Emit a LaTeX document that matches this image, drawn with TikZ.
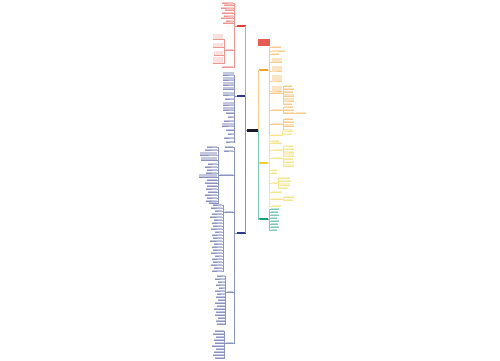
\documentclass[tikz,border=0pt]{standalone}
\usepackage{amsmath}
\usepackage{tikz}

\definecolor{mmroot}{RGB}{25,25,40}
\definecolor{mmred}{RGB}{226,62,52}
\definecolor{mmnavy}{RGB}{45,58,140}
\definecolor{mmorange}{RGB}{240,160,40}
\definecolor{mmyellow}{RGB}{238,205,50}
\definecolor{mmgreen}{RGB}{20,160,120}

\begin{document}
\begin{tikzpicture}[x=1pt,y=-1pt,
    leaf/.style={rectangle,inner sep=0pt,outer sep=0pt,fill=#1!28},
    block/.style={rectangle,inner sep=0pt,outer sep=0pt,fill=#1!16},
    bar/.style={rectangle,inner sep=0pt,outer sep=0pt,fill=#1,minimum width=9pt,minimum height=2.5pt},
    link/.style={draw=#1!55,line width=0.3pt}]
      \useasboundingbox (0,0) rectangle (500,360);
      % centre and main branches
      \node[bar=mmroot,minimum width=11pt,minimum height=3pt] (root) at (252,130) {};
      \node[bar=mmred] (red) at (241,26) {};
      \node[bar=mmnavy] (navyA) at (241,96) {};
      \node[bar=mmnavy] (navyB) at (241,233) {};
      \node[bar=mmorange] (orange) at (263.5,70) {};
      \node[bar=mmyellow] (yellow) at (263.5,163) {};
      \node[bar=mmgreen] (green) at (263.5,219) {};
      \node[bar=mmred!85,minimum width=12pt,minimum height=7pt] (banner) at (264,42.5) {};
      \draw[link=mmred] (root.west) -- ++(-1,0) |- (red.east);
      \draw[link=mmnavy] (root.west) -- ++(-1,0) |- (navyA.east);
      \draw[link=mmnavy] (root.west) -- ++(-1,0) |- (navyB.east);
      \draw[link=mmorange] (root.east) -- ++(1,0) |- (orange.west);
      \draw[link=mmyellow] (root.east) -- ++(1,0) |- (yellow.west);
      \draw[link=mmgreen] (root.east) -- ++(1,0) |- (green.west);

      % red branch
      \foreach \y/\w/\h [count=\i] in {3/11/1.5,5.5/9/1.5,8/12/1.5,10.5/8/1.5,13.5/11/2,16/9/1.5,18.5/12/1.5,21/7/1.5,23.5/10/1.5,67.5/11/1.5}{
        \node[leaf=mmred,minimum width=\w pt,minimum height=\h pt,anchor=south east] (ra\i) at (233,\y) {};
        \draw[link=mmred] (red.west) -- ++(-2,0) |- (ra\i.south east) -- (ra\i.south west);
      }
      \node[leaf=mmred,minimum width=7pt,minimum height=1.5pt,anchor=south east] (rb) at (233,50.5) {};
      \draw[link=mmred] (red.west) -- ++(-2,0) |- (rb.south east) -- (rb.south west);
      \foreach \y/\w/\h [count=\i] in {39.5/10/6,47.5/10/5,55.5/9/5,63.5/10/6.5}{
        \node[block=mmred,minimum width=\w pt,minimum height=\h pt,anchor=south east] (rb\i) at (223,\y) {};
        \draw[link=mmred] (rb.west) -- ++(-1.5,0) |- (rb\i.south east) -- (rb\i.south west);
      }

      % first navy branch
      \foreach \y/\w/\h [count=\i] in {75/11/3,80/11/3,85/11/3,89.5/11/3,95/11/3,99/9/1.5,105/11/3,110/11/3,113.5/8/1.5,117/6/1.5,121/10/1.5,126/12/3,130.5/8/1.5,134/6/1.5,138/10/1.5,142/8/1.5}{
        \node[leaf=mmnavy,minimum width=\w pt,minimum height=\h pt,anchor=south east] (na\i) at (234,\y) {};
        \draw[link=mmnavy] (navyA.west) -- ++(-2,0) |- (na\i.south east) -- (na\i.south west);
      }

      % second navy branch
      \foreach \y/\w [count=\i] in {147.5/8,151/9}{
        \node[leaf=mmnavy,minimum width=\w pt,minimum height=1.5pt,anchor=south east] (nl\i) at (233,\y) {};
        \draw[link=mmnavy] (navyB.west) -- ++(-2,0) |- (nl\i.south east) -- (nl\i.south west);
      }
      \node[leaf=mmnavy,minimum width=13pt,minimum height=1.5pt,anchor=south east] (nb1) at (233,175.5) {};
      \node[leaf=mmnavy,minimum width=8pt,minimum height=1.5pt,anchor=south east] (nb2) at (233,212.5) {};
      \node[leaf=mmnavy,minimum width=6pt,minimum height=1.5pt,anchor=south east] (nb3) at (233,292.5) {};
      \node[leaf=mmnavy,minimum width=7pt,minimum height=1.5pt,anchor=south east] (nb4) at (233,343.5) {};
      \foreach \n in {nb1,nb2,nb3,nb4}
        \draw[link=mmnavy] (navyB.west) -- ++(-2,0) |- (\n.south east) -- (\n.south west);
      \foreach \y/\w/\h [count=\i] in {147/10/1.5,150/12/1.5,155/17/3.5,160.5/16/4,164/9/1.5,167/12/1.5,170/10/1.5,173/11/1.5,177.5/18/3.5,180.5/10/1.5,183.5/12/1.5,186.5/10/1.5,189/11/1.5,192.5/9/1.5,195/12/1.5,198/10/1.5,201/11/1.5,203.5/8/1.5}{
        \node[leaf=mmnavy,minimum width=\w pt,minimum height=\h pt,anchor=south east] (nb1c\i) at (217,\y) {};
        \draw[link=mmnavy] (nb1.west) -- ++(-1.5,0) |- (nb1c\i.south east) -- (nb1c\i.south west);
      }
      \foreach \y/\w [count=\i] in {205/9,208/11,211/7,214/10,217/12,220/8,223/10,226/9,229/11,232/7,235/10,238/9,241/12,244/8,247/10,250/9,253/11,256/7,259/10,262/9,265/11,268/8,271/10}{
        \node[leaf=mmnavy,minimum width=\w pt,minimum height=1.5pt,anchor=south east] (nb2c\i) at (222,\y) {};
        \draw[link=mmnavy] (nb2.west) -- ++(-1.5,0) |- (nb2c\i.south east) -- (nb2c\i.south west);
      }
      \foreach \y/\w [count=\i] in {276/8,279/10,282/7,285/9,288/6,291/10,294/8,297/9,300/7,303/10,306/8,309/11,312/9,315/10,318/7,321/9,324/8}{
        \node[leaf=mmnavy,minimum width=\w pt,minimum height=1.5pt,anchor=south east] (nb3c\i) at (225,\y) {};
        \draw[link=mmnavy] (nb3.west) -- ++(-1.5,0) |- (nb3c\i.south east) -- (nb3c\i.south west);
      }
      \foreach \y/\w [count=\i] in {331/9,334/11,337/8,340/10,343/9,346/12,349/8,352/10,355/11,358/9}{
        \node[leaf=mmnavy,minimum width=\w pt,minimum height=1.5pt,anchor=south east] (nb4c\i) at (224,\y) {};
        \draw[link=mmnavy] (nb4.west) -- ++(-1.5,0) |- (nb4c\i.south east) -- (nb4c\i.south west);
      }

      % orange branch
      \foreach \y/\w/\h [count=\i] in {47.5/9/1.5,51/13/1.5,54.5/7/1.5,62.5/10/4.5,71/10/5,81/10/6,91/10/5,135.5/8/1.5}{
        \node[leaf=mmorange,minimum width=\w pt,minimum height=\h pt,anchor=south west] (ol\i) at (272,\y) {};
        \draw[link=mmorange] (orange.east) -- ++(1.5,0) |- (ol\i.south west) -- (ol\i.south east);
      }
      \foreach \n/\y in {oc1/93.5,oc2/110.5,oc3/124.5}{
        \node[leaf=mmorange,minimum width=10pt,minimum height=1.5pt,anchor=south west] (\n) at (272,\y) {};
        \draw[link=mmorange] (orange.east) -- ++(1.5,0) |- (\n.south west) -- (\n.south east);
      }
      \foreach \y/\w/\h [count=\i] in {86.5/8/1.5,89.5/10/1.5,92.5/9/1.5,96.5/10/3,101/10/3,104.5/8/1.5}{
        \node[leaf=mmorange,minimum width=\w pt,minimum height=\h pt,anchor=south west] (oc1c\i) at (284,\y) {};
        \draw[link=mmorange] (oc1.east) -- ++(1,0) |- (oc1c\i.south west) -- (oc1c\i.south east);
      }
      \foreach \y/\w/\h [count=\i] in {107/9/1.5,110.5/10/2,113.5/10/1.5}{
        \node[leaf=mmorange,minimum width=\w pt,minimum height=\h pt,anchor=south west] (oc2c\i) at (284,\y) {};
        \draw[link=mmorange] (oc2.east) -- ++(1,0) |- (oc2c\i.south west) -- (oc2c\i.south east);
      }
      \node[leaf=mmorange,minimum width=10pt,minimum height=1.5pt,anchor=south west] (oc2d) at (296,113.5) {};
      \draw[link=mmorange] (oc2c3.south east) -- (oc2d.south west) -- (oc2d.south east);
      \foreach \y/\w/\h [count=\i] in {119.5/9/1.5,122.5/10/1.5,126.5/10/3,130/8/1.5}{
        \node[leaf=mmorange,minimum width=\w pt,minimum height=\h pt,anchor=south west] (oc3c\i) at (284,\y) {};
        \draw[link=mmorange] (oc3.east) -- ++(1,0) |- (oc3c\i.south west) -- (oc3c\i.south east);
      }

      % yellow branch
      \foreach \y/\w/\h [count=\i] in {141/7/1.5,143.5/10/1.5,170.5/5/1.5,173.5/5/1.5,192.5/10/2,206.5/9/1.5}{
        \node[leaf=mmyellow,minimum width=\w pt,minimum height=\h pt,anchor=south west] (yl\i) at (272,\y) {};
        \draw[link=mmyellow] (yellow.east) -- ++(1.5,0) |- (yl\i.south west) -- (yl\i.south east);
      }
      \foreach \n/\y/\w in {yc1/135.5/9,yc2/150/10,yc3/158.5/10,yc4/183/5,yc5/199.5/10}{
        \node[leaf=mmyellow,minimum width=\w pt,minimum height=1.5pt,anchor=south west] (\n) at (272,\y) {};
        \draw[link=mmyellow] (yellow.east) -- ++(1.5,0) |- (\n.south west) -- (\n.south east);
      }
      \foreach \p/\x/\y/\w/\h [count=\i] in {yc1/283/131/10/1.5,yc1/283/134/9/1.5,
          yc2/284/146/9/1.5,yc2/284/149/10/1.5,yc2/284/152/10/1.5,yc2/284/156/10/3,
          yc3/284/159.5/9/1.5,yc3/284/162.5/10/1.5,yc3/284/166.5/10/3,
          yc4/279/178.5/11/1.5,yc4/279/181.5/12/1.5,yc4/279/185/11/2,yc4/279/188.5/9/1.5,
          yc5/284/197.5/10/1.5,yc5/284/200.5/9/1.5}{
        \node[leaf=mmyellow,minimum width=\w pt,minimum height=\h pt,anchor=south west] (yd\i) at (\x,\y) {};
        \draw[link=mmyellow] (\p.east) -- ++(1,0) |- (yd\i.south west) -- (yd\i.south east);
      }

      % green branch
      \foreach \y/\w [count=\i] in {209.5/8,212.5/7,215.5/8,218.5/6,221.5/8,224.5/7,227.5/8,230.5/6}{
        \node[leaf=mmgreen,minimum width=\w pt,minimum height=1.5pt,anchor=south west] (gl\i) at (270.5,\y) {};
        \draw[link=mmgreen] (green.east) -- ++(1,0) |- (gl\i.south west) -- (gl\i.south east);
      }
    \end{tikzpicture}
\end{document}
